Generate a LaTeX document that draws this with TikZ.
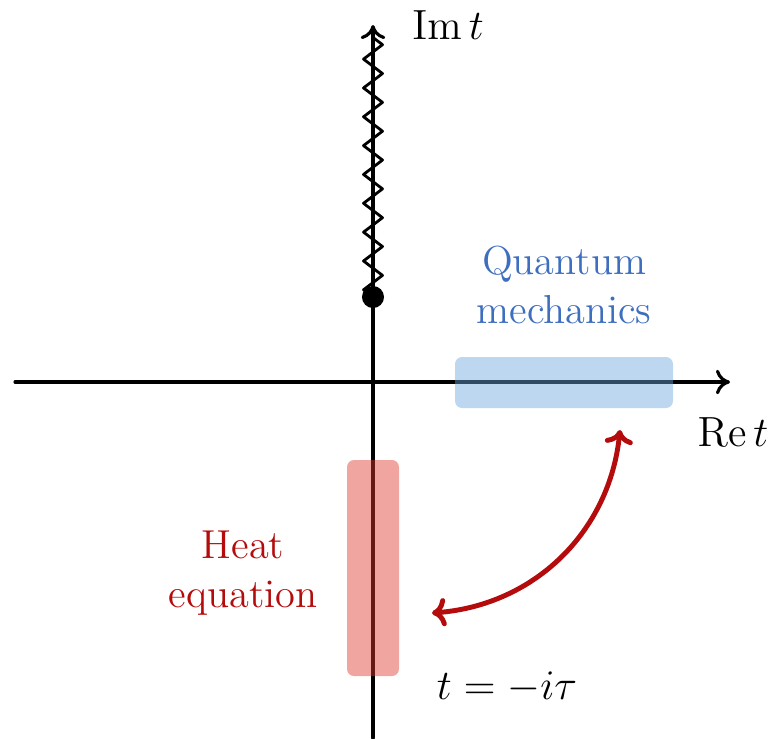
\documentclass[tikz,border=0pt]{standalone}
\usetikzlibrary{decorations.pathmorphing,arrows.meta}
\definecolor{qmblue}{RGB}{62,110,190}
\definecolor{heatred}{RGB}{180,12,12}
\definecolor{qmfill}{RGB}{111,167,222}
\definecolor{heatfill}{RGB}{222,56,44}
\tikzset{
  axis/.style={line width=0.9pt, -{To[length=4pt,width=7pt]}},
  label/.style={font=\fontsize{11.5}{14}\selectfont, align=center},
  region/.style={rounded corners=2pt, fill opacity=0.45},
}
\begin{document}
\begin{tikzpicture}[x=0.01cm, y=-0.01cm, line join=round, line cap=round]
			\useasboundingbox (0,0) rectangle (778,738);
			
			\coordinate (O) at (373,382);
			\coordinate (xl) at (15,382);
			\coordinate (xr) at (730,382);
			\coordinate (yb) at (373,738);
			\coordinate (yt) at (373,25);
			
			\draw[axis] (xl) -- (xr);
			\draw[axis] (yb) -- (yt);
			\node[font=\fontsize{12}{14}\selectfont, anchor=west] (im) at (400,25) {$\mathrm{Im}\, t$};
			\node[font=\fontsize{12}{14}\selectfont] (re) at (733,432) {$\mathrm{Re}\, t$};
			
			\fill[region, fill=qmfill] (455,357) rectangle (673,408);
			\fill[region, fill=heatfill] (347,460) rectangle (399,676);
			
			% branch cut
			\node[circle, fill=black, inner sep=0pt, minimum size=0.22cm] (bp) at (373,297) {};
			\coordinate (cutend) at (373,34);
			\draw[line width=0.8pt, decorate, decoration={zigzag, segment length=8.2pt, amplitude=2.7pt}] (bp.center) -- (cutend);
			
			\node[label, text=qmblue] (qm) at (564,285) {Quantum\\mechanics};
			\node[label, text=heatred] (heat) at (243,573) {Heat\\equation};
			\node[font=\fontsize{12}{14}\selectfont] (wick) at (507,687) {$t=-i\tau$};
			
			\coordinate (a1) at (432,613);
			\coordinate (a2) at (620,430);
			\draw[heatred, line width=1.4pt, {To[length=4pt,width=8pt]}-{To[length=4pt,width=8pt]}] (a1) to[bend right=40] (a2);
			
		\end{tikzpicture}
\end{document}
